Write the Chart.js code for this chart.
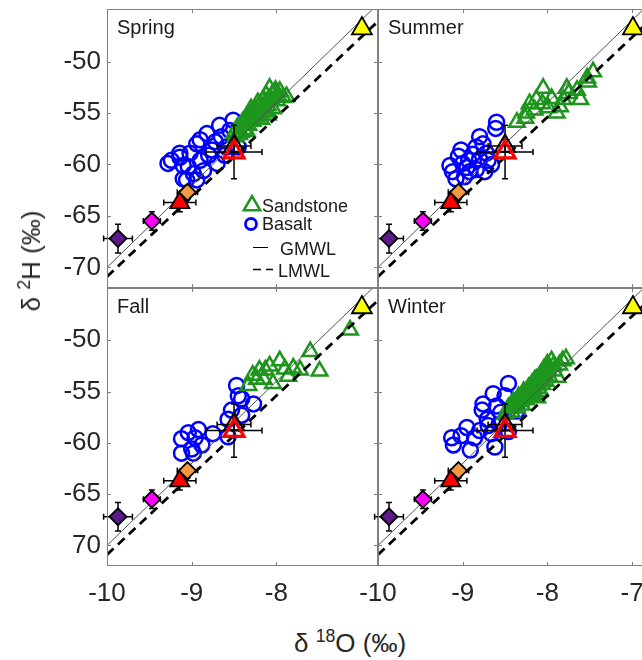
<!DOCTYPE html>
<html>
<head>
<meta charset="utf-8">
<script src="https://cdn.jsdelivr.net/npm/chart.js@4.4.1/dist/chart.umd.min.js"></script>
<style>
  html, body { margin: 0; padding: 0; background: #fff; overflow: hidden; }
  body { width: 642px; height: 660px; position: relative; font-family: "Liberation Sans", Arial, sans-serif; }
  canvas { position: absolute; }
  .axt { position: absolute; font-size: 26px; color: #262626; white-space: nowrap; line-height: 1; }
  .axt sup { font-size: 0.68em; vertical-align: 0.55em; line-height: 0; }
</style>
</head>
<body>
<canvas id="c0" width="378" height="288" style="left:0;top:0"></canvas>
<canvas id="c1" width="271" height="288" style="left:378px;top:0"></canvas>
<canvas id="c2" width="378" height="330" style="left:0;top:288px"></canvas>
<canvas id="c3" width="311" height="330" style="left:338px;top:288px"></canvas>
<div class="axt" style="left:350px;top:643px;transform:translate(-50%,-50%)">δ <sup>18</sup>O (‰)</div>
<div class="axt" style="left:31px;top:261px;transform:translate(-50%,-50%) rotate(-90deg)">δ <sup>2</sup>H (‰)</div>
<script>
// panels and axes
var seasons = ['Spring', 'Summer', 'Fall', 'Winter'];
var oTicks = [-10, -9, -8, -7];
var oTickLabels = ['-10', '-9', '-8', '-7'];
var hTicks = [-70, -65, -60, -55, -50];
var hTickLabels = ['-70', '-65', '-60', '-55', '-50'];
var hTickLabelsLow = ['70', '-65', '-60', '-55', '-50']; // minus sign is cut off on the lower-left axis

// meteoric water lines (end points)
var mwlO = [-10, -6.8];
var gmwlH = [-70, -44.4];
var lmwlH = [-70.9, -46.1];

// reference waters, same in all panels (delta18O, delta2H, errors)
var refO = [-9.87, -9.47, -9.14, -9.05, -8.50, -8.50, -6.99];
var refH = [-67.2, -65.5, -63.7, -62.7, -58.2, -58.8, -46.8];
var refErrO = [0.17, 0.10, 0.19, 0.12, 0.20, 0.33, 0];
var refErrH = [1.4, 0.9, 0.9, 0.6, 0.6, 2.6, 0];

// Spring
var springSandO = [-8.50, -8.46, -8.44, -8.40, -8.38, -8.35, -8.33, -8.30, -8.28, -8.25, -8.23, -8.20, -8.18, -8.16, -8.14, -8.12, -8.10, -8.08, -8.06, -8.04, -8.02, -7.99, -7.96, -7.92, -7.88, -8.22, -8.30, -8.10,
  -8.48, -8.42, -8.37, -8.32, -8.27, -8.22, -8.17, -8.13, -8.09, -8.05, -8.01, -7.98, -8.19, -8.11, -8.35];
var springSandH = [-57.0, -56.4, -57.1, -55.9, -56.6, -55.5, -56.2, -55.0, -55.8, -54.6, -55.4, -54.2, -55.6, -53.8, -54.9, -53.3, -54.3, -52.6, -53.7, -54.6, -53.0, -53.8, -52.9, -53.5, -53.4, -54.0, -54.6, -55.2,
  -57.3, -56.9, -56.1, -55.7, -55.2, -54.9, -54.5, -54.0, -53.7, -53.2, -52.8, -53.3, -55.0, -54.8, -56.8];
var springBasO = [-9.28, -9.24, -9.14, -9.14, -9.10, -9.10, -9.06, -9.04, -9.02, -8.98, -8.94, -8.94, -8.90, -8.90, -8.86, -8.82, -8.80, -8.76, -8.72, -8.70, -8.67, -8.65, -8.61, -8.59, -8.55, -8.51, -8.45];
var springBasH = [-59.9, -59.6, -58.9, -59.3, -60.1, -61.4, -61.5, -60.2, -58.9, -60.9, -58.0, -61.5, -59.6, -57.6, -60.6, -57.0, -59.1, -58.6, -57.8, -59.9, -56.2, -57.3, -59.1, -58.3, -56.7, -55.7, -58.3];

// Summer
var summerSandO = [-8.36, -8.25, -8.05, -8.13, -8.15, -7.99, -7.89, -7.77, -7.81, -7.95, -7.61, -7.65, -7.53, -7.46, -7.52, -8.26, -8.06, -7.85, -8.21, -7.75];
var summerSandH = [-55.9, -55.0, -52.6, -53.7, -54.7, -54.5, -55.0, -52.6, -53.7, -53.6, -53.7, -52.8, -51.6, -51.0, -52.0, -55.5, -54.1, -54.4, -54.1, -53.1];
var summerBasO = [-8.60, -8.61, -8.80, -8.76, -8.84, -8.72, -8.88, -8.93, -9.05, -9.00, -9.15, -9.12, -9.08, -8.98, -8.92, -8.84, -8.74, -8.66, -8.70, -8.80, -8.95, -9.02];
var summerBasH = [-55.9, -56.5, -57.3, -58.0, -58.3, -58.9, -59.0, -59.6, -59.2, -59.9, -60.1, -60.7, -61.4, -61.2, -60.7, -60.5, -60.7, -60.0, -59.6, -59.5, -60.3, -58.6];

// Fall
var fallSandO = [-7.13, -7.60, -7.49, -7.72, -7.80, -7.96, -8.08, -8.13, -8.23, -8.33, -8.04, -7.90, -8.15, -7.86, -8.20, -8.28];
var fallSandH = [-49.0, -51.1, -53.0, -52.9, -52.7, -52.0, -52.5, -52.9, -53.8, -54.4, -54.2, -52.8, -53.8, -53.5, -52.9, -53.4];
var fallBasO = [-8.47, -8.45, -8.41, -8.27, -8.53, -8.41, -8.57, -8.57, -8.75, -8.92, -9.12, -8.96, -8.88, -9.12, -9.00, -9.04, -8.98];
var fallBasH = [-54.4, -55.4, -55.7, -56.2, -56.8, -57.3, -57.7, -59.4, -59.1, -58.7, -59.6, -59.5, -60.2, -61.0, -60.6, -59.0, -61.0];

// Winter
var winterSandO = [-8.50, -8.46, -8.42, -8.40, -8.36, -8.34, -8.30, -8.28, -8.25, -8.22, -8.20, -8.18, -8.15, -8.13, -8.10, -8.08, -8.06, -8.04, -8.02, -8.00, -7.98, -7.95, -7.92, -7.88, -7.82, -7.78, -8.35, -8.25, -8.15, -8.05, -8.30, -8.20, -8.12,
  -8.47, -8.43, -8.38, -8.32, -8.26, -8.21, -8.16, -8.11, -8.07, -8.03, -7.99, -7.93, -7.86, -8.18, -8.09];
var winterSandH = [-57.2, -56.6, -57.0, -56.0, -56.6, -55.5, -56.3, -55.0, -55.8, -54.6, -55.5, -54.2, -55.2, -53.8, -54.7, -53.3, -54.3, -52.8, -54.0, -52.3, -53.5, -52.0, -53.0, -53.6, -52.0, -51.8, -56.0, -55.0, -53.9, -53.2, -55.6, -54.9, -55.6,
  -57.0, -56.3, -56.4, -55.9, -55.3, -55.0, -54.6, -54.2, -53.8, -53.4, -52.9, -52.5, -52.4, -55.4, -55.0];
var winterBasO = [-9.13, -9.11, -8.91, -8.95, -8.77, -8.71, -8.60, -8.46, -8.50, -8.80, -8.66, -8.86, -8.62, -8.40, -8.36, -9.02, -8.57, -8.76, -8.64, -8.46, -8.70, -8.55];
var winterBasH = [-59.5, -60.2, -60.7, -58.5, -56.8, -57.7, -56.4, -54.2, -55.4, -58.8, -59.1, -59.5, -60.4, -56.3, -56.9, -59.3, -58.2, -56.2, -55.2, -58.9, -58.3, -57.0];

// marker styles for the reference waters
var refShape = ['rectRot', 'rectRot', 'triangle', 'rectRot', 'triangle', 'triangle', 'triangle'];
var refSize = [8.5, 8.5, 11, 8.5, 11.5, 11.5, 11.5];
var refFill = ['#5e1a8c', '#ff00ff', '#ff0000', '#f39a3e', 'rgba(0,0,0,0)', 'rgba(0,0,0,0)', '#ffff00'];
var refEdge = ['#000', '#000', '#000', '#000', '#000', '#ff0000', '#000'];
var refEdgeW = [1.8, 1.8, 1.8, 1.8, 2, 3.2, 1.8];

var sandColor = '#1e961e';
var basColor = '#0000ff';

Chart.defaults.font.family = '"Liberation Sans", Arial, Helvetica, sans-serif';
Chart.defaults.color = '#262626';

function pts(xs, ys) {
  return xs.map(function(v, i) { return {x: v, y: ys[i]}; });
}

var panelPlugin = {
  id: 'panel',
  beforeDatasetDraw: function(chart, args) {
    if (args.index !== 0) return;
    var ctx = chart.ctx, x = chart.scales.x, y = chart.scales.y;
    ctx.save();
    ctx.strokeStyle = '#000';
    ctx.lineWidth = 1.5;
    for (var i = 0; i < refO.length; i++) {
      if (!refErrO[i] && !refErrH[i]) continue;
      var px = x.getPixelForValue(refO[i]), py = y.getPixelForValue(refH[i]);
      var x0 = x.getPixelForValue(refO[i] - refErrO[i]), x1 = x.getPixelForValue(refO[i] + refErrO[i]);
      var y0 = y.getPixelForValue(refH[i] - refErrH[i]), y1 = y.getPixelForValue(refH[i] + refErrH[i]);
      ctx.beginPath();
      ctx.moveTo(x0, py); ctx.lineTo(x1, py);
      ctx.moveTo(x0, py - 3); ctx.lineTo(x0, py + 3);
      ctx.moveTo(x1, py - 3); ctx.lineTo(x1, py + 3);
      ctx.moveTo(px, y0); ctx.lineTo(px, y1);
      ctx.moveTo(px - 3, y0); ctx.lineTo(px + 3, y0);
      ctx.moveTo(px - 3, y1); ctx.lineTo(px + 3, y1);
      ctx.stroke();
    }
    ctx.restore();
  },
  afterDraw: function(chart, args, opts) {
    var ctx = chart.ctx, a = chart.chartArea, x = chart.scales.x, y = chart.scales.y;
    ctx.save();
    // box
    ctx.strokeStyle = '#808080';
    ctx.lineWidth = 1;
    ctx.strokeRect(a.left + 0.5, a.top + 0.5, a.right - a.left - 1, a.bottom - a.top - 1);
    // inward ticks on all four sides
    ctx.beginPath();
    opts.oTicks.forEach(function(v) {
      var px = Math.round(x.getPixelForValue(v)) + 0.5;
      ctx.moveTo(px, a.bottom); ctx.lineTo(px, a.bottom - 4);
      ctx.moveTo(px, a.top); ctx.lineTo(px, a.top + 4);
    });
    hTicks.forEach(function(v) {
      var py = Math.round(y.getPixelForValue(v)) + 0.5;
      ctx.moveTo(a.left, py); ctx.lineTo(a.left + 4, py);
      ctx.moveTo(a.right, py); ctx.lineTo(a.right - 4, py);
    });
    ctx.stroke();
    // panel name
    ctx.fillStyle = '#1a1a1a';
    ctx.font = '20px "Liberation Sans", Arial, sans-serif';
    ctx.textBaseline = 'alphabetic';
    ctx.fillText(opts.name, a.left + 10, a.top + 25);
    if (opts.legend) drawLegend(ctx, a);
    ctx.restore();
  }
};

function drawLegend(ctx, a) {
  var lx = a.left, ly = a.top;
  ctx.save();
  ctx.fillStyle = 'rgba(0,0,0,0)';
  ctx.strokeStyle = sandColor;
  ctx.lineWidth = 2.5;
  Chart.helpers.drawPoint(ctx, {pointStyle: 'triangle', radius: 9.5, borderWidth: 2.5, rotation: 0}, lx + 145, ly + 196.5);
  ctx.strokeStyle = basColor;
  ctx.lineWidth = 2.8;
  Chart.helpers.drawPoint(ctx, {pointStyle: 'circle', radius: 5.5, borderWidth: 2.8, rotation: 0}, lx + 144, ly + 215);
  ctx.strokeStyle = '#000';
  ctx.lineWidth = 1;
  ctx.beginPath();
  ctx.moveTo(lx + 146, ly + 238.5); ctx.lineTo(lx + 161, ly + 238.5);
  ctx.stroke();
  ctx.lineWidth = 1.5;
  ctx.setLineDash([8, 5]);
  ctx.beginPath();
  ctx.moveTo(lx + 146, ly + 260.5); ctx.lineTo(lx + 166, ly + 260.5);
  ctx.stroke();
  ctx.setLineDash([]);
  ctx.fillStyle = '#1a1a1a';
  ctx.font = '18px "Liberation Sans", Arial, sans-serif';
  ctx.textBaseline = 'alphabetic';
  ctx.fillText('Sandstone', lx + 155, ly + 202.7);
  ctx.fillText('Basalt', lx + 155, ly + 221);
  ctx.fillText('GMWL', lx + 173, ly + 246);
  ctx.fillText('LMWL', lx + 171, ly + 268);
  ctx.restore();
}

function buildChart(id, name, sandO, sandH, basO, basH, showY, showX, yLabels, xTicks, padLeft, legend) {
  return new Chart(document.getElementById(id), {
    type: 'scatter',
    data: {
      datasets: [
        {
          label: 'reference',
          data: pts(refO, refH),
          pointStyle: refShape,
          pointRadius: refSize,
          pointBackgroundColor: refFill,
          pointBorderColor: refEdge,
          pointBorderWidth: refEdgeW
        },
        {
          label: 'GMWL',
          data: pts(mwlO, gmwlH),
          showLine: true,
          borderColor: '#505050',
          borderWidth: 1,
          pointRadius: 0
        },
        {
          label: 'LMWL',
          data: pts(mwlO, lmwlH),
          showLine: true,
          borderColor: '#000',
          borderWidth: 2.8,
          borderDash: [9, 6],
          pointRadius: 0
        },
        {
          label: 'Sandstone',
          data: pts(sandO, sandH),
          pointStyle: 'triangle',
          pointRadius: 9,
          pointBackgroundColor: 'rgba(0,0,0,0)',
          pointBorderColor: sandColor,
          pointBorderWidth: 2.5
        },
        {
          label: 'Basalt',
          data: pts(basO, basH),
          pointStyle: 'circle',
          pointRadius: 7.5,
          pointBackgroundColor: 'rgba(0,0,0,0)',
          pointBorderColor: basColor,
          pointBorderWidth: 2.5
        }
      ]
    },
    options: {
      responsive: false,
      animation: false,
      events: [],
      layout: {autoPadding: false, padding: {top: showX ? 0 : 9, left: padLeft, right: 0, bottom: 0}},
      plugins: {
        legend: {display: false},
        tooltip: {enabled: false},
        panel: {name: name, oTicks: xTicks, legend: legend}
      },
      scales: {
        x: {
          type: 'linear',
          min: -10,
          max: -6.8,
          display: showX,
          afterFit: function(s) { if (showX) s.height = 52; },
          afterBuildTicks: function(s) { s.ticks = xTicks.map(function(v) { return {value: v}; }); },
          grid: {display: false, drawTicks: true, tickLength: 12},
          border: {display: false},
          ticks: {
            padding: 0,
            maxRotation: 0,
            autoSkip: false,
            font: {size: 26},
            color: '#262626',
            callback: function(v) { return oTickLabels[oTicks.indexOf(v)]; }
          }
        },
        y: {
          type: 'linear',
          min: -72,
          max: -44.9,
          display: showY,
          afterFit: function(s) { if (showY) s.width = 107; },
          afterBuildTicks: function(s) { s.ticks = hTicks.map(function(v) { return {value: v}; }); },
          grid: {display: false, drawTicks: true, tickLength: 6},
          border: {display: false},
          ticks: {
            padding: 0,
            autoSkip: false,
            font: {size: 26, lineHeight: 0},
            color: '#262626',
            callback: function(v) { return yLabels[hTicks.indexOf(v)]; }
          }
        }
      }
    },
    plugins: [panelPlugin]
  });
}

buildChart('c0', seasons[0], springSandO, springSandH, springBasO, springBasH, true, false, hTickLabels, oTicks.slice(0, 3), 0, true);
buildChart('c1', seasons[1], summerSandO, summerSandH, summerBasO, summerBasH, false, false, hTickLabels, oTicks, 0, false);
buildChart('c2', seasons[2], fallSandO, fallSandH, fallBasO, fallBasH, true, true, hTickLabelsLow, oTicks.slice(0, 3), 0, false);
buildChart('c3', seasons[3], winterSandO, winterSandH, winterBasO, winterBasH, false, true, hTickLabels, oTicks, 40, false);
</script>
</body>
</html>
